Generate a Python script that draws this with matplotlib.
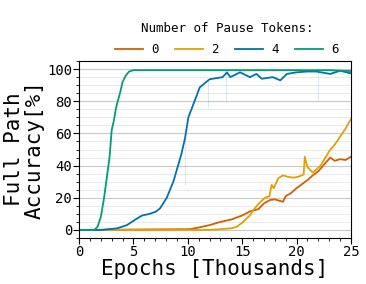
import matplotlib.pyplot as plt
from matplotlib.ticker import MultipleLocator

# epochs in thousands, accuracy in percent
x_green = [0, 1.4, 1.7, 2.0, 2.3, 2.6, 2.8, 3.0, 3.2, 3.4, 3.6, 3.8, 4.0, 4.3, 4.6,
           5.0, 8, 12, 16, 20, 23, 24, 25]
y_green = [0, 0, 2, 8, 20, 35, 45, 62, 68, 76, 81, 86, 92, 96, 98.5,
           99.3, 99.3, 99.3, 99.3, 99.3, 99.3, 99, 98.8]

x_blue = [0, 2.0, 3.5, 4.4, 5.3, 5.8, 6.5, 7.1, 7.45, 8.06, 8.67, 9.1, 9.4, 9.74,
          10.05, 10.5, 11.1, 12.0, 13.2, 13.6, 13.9, 14.8, 15.7, 16.3, 16.8,
          17.8, 18.5, 19.1, 20.0, 21.0, 21.8, 23.1, 24.0, 24.9, 25]
y_blue = [0, 0, 1, 3, 7, 9, 10, 11.5, 13.5, 20, 30, 40, 47, 57,
          70, 78, 88.7, 93.7, 95, 98, 95, 98, 95, 97, 94,
          95, 93, 97, 98, 98.5, 98.5, 97, 99, 97.5, 97.5]

# faint single-epoch dips of the raw blue curve: position, bottom, top
x_blue_dip = [9.74, 11.9, 13.5, 22.0]
lo_blue_dip = [28, 76, 80, 80]
hi_blue_dip = [57, 93, 98, 98.5]

x_red = [0, 10.2, 11, 12, 13, 14, 15, 15.7, 16.5, 17, 17.6, 18, 18.75, 19, 19.5,
         20, 20.6, 21, 21.5, 22, 22.5, 23.1, 23.5, 24, 24.5, 25]
y_red = [0, 0.5, 1.5, 3, 5, 6.5, 9, 11.5, 13, 16.5, 18.7, 19, 17.5, 21, 23,
         26, 29, 31, 34, 36.5, 40.5, 45, 43, 44, 43.5, 45.5]

x_yellow = [0, 12, 13, 14, 14.5, 15, 15.7, 16.1, 16.6, 17.1, 17.5, 17.7, 17.9, 18.3,
            18.75, 19.2, 19.7, 20.1, 20.5, 20.65, 20.75, 21.0, 21.5, 22.2, 23.1,
            23.5, 24, 24.5, 25]
y_yellow = [0, 0, 0.5, 1, 2, 4.5, 9, 13, 17, 20, 21, 28, 26, 32,
            34, 33, 32.5, 33, 34, 34.5, 45.5, 39, 35.6, 40, 50,
            53, 58, 63, 69]

labels = ["0", "2", "4", "6"]
colors = ["#d55e00", "#e69f00", "#0072b2", "#009e73"]

plt.rcParams["font.family"] = "DejaVu Sans Mono"

fig = plt.figure(figsize=(3.66, 2.84), dpi=100)
ax = fig.add_axes([0.216, 0.162, 0.743, 0.623])

ax.vlines(x_blue_dip, lo_blue_dip, hi_blue_dip, color=colors[2], alpha=0.15, lw=0.8)

series = [(x_red, y_red), (x_yellow, y_yellow), (x_blue, y_blue), (x_green, y_green)]
for (xs, ys), lab, col in zip(series, labels, colors):
    ax.plot(xs, ys, color=col, lw=1.3, label=lab)

ax.set_xlim(0, 25)
ax.set_ylim(-5, 105)
ax.xaxis.set_major_locator(MultipleLocator(5))
ax.xaxis.set_minor_locator(MultipleLocator(1))
ax.yaxis.set_major_locator(MultipleLocator(20))
ax.yaxis.set_minor_locator(MultipleLocator(5))
ax.grid(True, axis="y", which="major", color="#c8c8c8", lw=0.8)
ax.grid(True, axis="y", which="minor", color="#e6e6e6", lw=0.6)
ax.set_axisbelow(True)
ax.tick_params(labelsize=10, length=4, pad=1)
ax.tick_params(which="minor", length=2)

ax.set_xlabel("Epochs [Thousands]", fontsize=15, labelpad=0)
ax.set_ylabel("Full Path\nAccuracy[%]", fontsize=15, labelpad=2, linespacing=1.0)

leg = fig.legend(title="Number of Pause Tokens:", ncol=4, frameon=False,
                 loc="upper center", bbox_to_anchor=(0.62, 0.94), fontsize=9,
                 title_fontsize=9, handlelength=2.2, columnspacing=1.3,
                 handletextpad=0.7, borderaxespad=0)
leg._legend_box.sep = 6

fig.savefig("out.png", dpi=100)
